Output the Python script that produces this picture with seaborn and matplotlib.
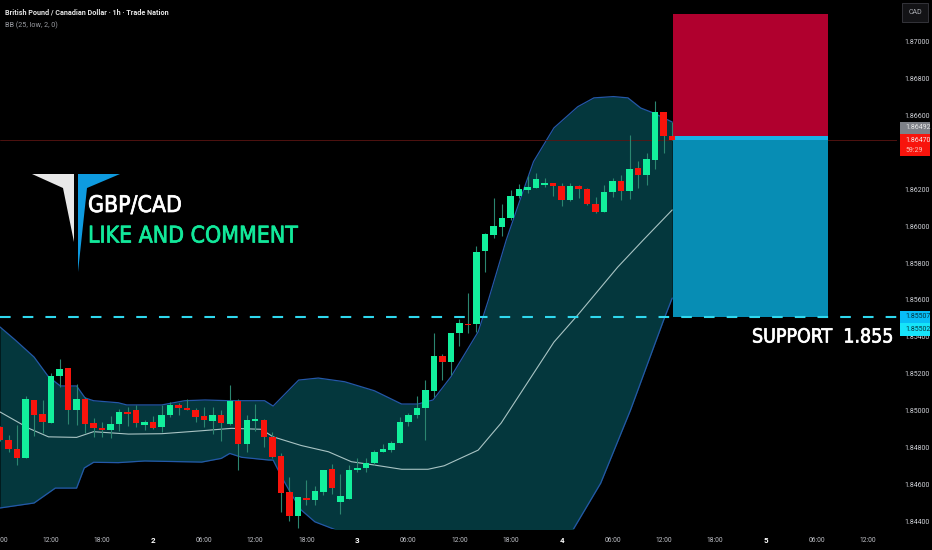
import matplotlib
matplotlib.use("Agg")
import matplotlib.pyplot as plt
import matplotlib.patheffects as pe
from matplotlib.patches import Polygon, Rectangle
import numpy as np
import pandas as pd
import seaborn as sns

# hourly candles, index 0 = 06:00 on the 1st
opens = [1.84908, 1.84840, 1.84789, 1.84740, 1.85057, 1.84981, 1.84934, 1.85187, 1.85230, 1.85002,
         1.85060, 1.84930, 1.84905, 1.84894, 1.84926, 1.84992, 1.85002, 1.84921, 1.84937, 1.84908,
         1.84973, 1.85028, 1.85015, 1.85004, 1.84970, 1.84945, 1.84975, 1.84928, 1.85049, 1.84818,
         1.84945, 1.84948, 1.84854, 1.84753, 1.84557, 1.84427, 1.84525, 1.84514, 1.84559, 1.84680,
         1.84503, 1.84518, 1.84675, 1.84686, 1.84717, 1.84773, 1.84787, 1.84825, 1.84937, 1.84973,
         1.85015, 1.85107, 1.85295, 1.85263, 1.85418, 1.85471, 1.85469, 1.85863, 1.85950, 1.85996,
         1.86043, 1.86162, 1.86198, 1.86209, 1.86223, 1.86233, 1.86218, 1.86140, 1.86218, 1.86200,
         1.86120, 1.86079, 1.86185, 1.86245, 1.86193, 1.86314, 1.86278, 1.86361, 1.86621, 1.86489]
highs = [1.84916, 1.84867, 1.84921, 1.85078, 1.85057, 1.85057, 1.85201, 1.85277, 1.85230, 1.85143,
         1.85075, 1.84957, 1.84939, 1.84970, 1.85006, 1.85020, 1.85030, 1.84948, 1.84970, 1.85030,
         1.85048, 1.85039, 1.85060, 1.85011, 1.85020, 1.85020, 1.85002, 1.85140, 1.85060, 1.84975,
         1.85035, 1.84952, 1.84885, 1.84771, 1.84637, 1.84528, 1.84623, 1.84590, 1.84677, 1.84709,
         1.84655, 1.84702, 1.84740, 1.84740, 1.84785, 1.84818, 1.84836, 1.84966, 1.84984, 1.85078,
         1.85165, 1.85418, 1.85306, 1.85418, 1.85494, 1.85639, 1.85892, 1.85961, 1.86155, 1.86120,
         1.86196, 1.86227, 1.86272, 1.86290, 1.86260, 1.86236, 1.86236, 1.86233, 1.86223, 1.86205,
         1.86157, 1.86223, 1.86260, 1.86278, 1.86495, 1.86356, 1.86399, 1.86681, 1.86621, 1.86567]
lows = [1.84836, 1.84776, 1.84704, 1.84740, 1.84861, 1.84876, 1.84934, 1.85129, 1.84926, 1.84921,
        1.84876, 1.84858, 1.84858, 1.84849, 1.84890, 1.84916, 1.84912, 1.84894, 1.84897, 1.84885,
        1.84966, 1.84975, 1.85002, 1.84939, 1.84908, 1.84872, 1.84836, 1.84921, 1.84677, 1.84776,
        1.84890, 1.84800, 1.84740, 1.84451, 1.84402, 1.84360, 1.84487, 1.84487, 1.84541, 1.84547,
        1.84438, 1.84518, 1.84668, 1.84668, 1.84704, 1.84773, 1.84776, 1.84825, 1.84916, 1.84957,
        1.84840, 1.85075, 1.85165, 1.85192, 1.85350, 1.85418, 1.85428, 1.85753, 1.85934, 1.85949,
        1.86034, 1.86151, 1.86178, 1.86205, 1.86214, 1.86164, 1.86111, 1.86138, 1.86151, 1.86115,
        1.86070, 1.86079, 1.86160, 1.86142, 1.86148, 1.86205, 1.86223, 1.86308, 1.86399, 1.86468]
closes = [1.84840, 1.84789, 1.84740, 1.85060, 1.84973, 1.84937, 1.85187, 1.85227, 1.85002, 1.85060,
          1.84926, 1.84907, 1.84894, 1.84926, 1.84990, 1.84982, 1.84934, 1.84939, 1.84907, 1.84975,
          1.85028, 1.85015, 1.85004, 1.84966, 1.84948, 1.84975, 1.84930, 1.85053, 1.84818, 1.84948,
          1.84952, 1.84858, 1.84746, 1.84554, 1.84427, 1.84528, 1.84514, 1.84563, 1.84677, 1.84577,
          1.84537, 1.84677, 1.84686, 1.84717, 1.84776, 1.84791, 1.84825, 1.84939, 1.84975, 1.85011,
          1.85111, 1.85297, 1.85263, 1.85418, 1.85473, 1.85464, 1.85862, 1.85958, 1.86001, 1.86044,
          1.86166, 1.86202, 1.86213, 1.86256, 1.86234, 1.86218, 1.86142, 1.86220, 1.86200, 1.86120,
          1.86077, 1.86187, 1.86245, 1.86193, 1.86310, 1.86280, 1.86363, 1.86621, 1.86491, 1.86470]

# bollinger bands
upper_x = [0, 1.8, 4, 5.7, 7.1, 9, 10, 11, 13.9, 14.9, 19, 21.7, 24.1, 26.9, 31.1, 32.1, 35.1, 37.4,
           40.5, 44, 47.2, 49.1, 50.9, 53, 56.2, 57.4, 59.5, 61.2, 62.7, 65.1, 67.9, 69.8, 72.1, 73.8,
           75.3, 76.8, 79]
upper_y = [1.85453, 1.85382, 1.85290, 1.85183, 1.85133, 1.85133, 1.85068, 1.85053, 1.85042, 1.85030,
           1.85030, 1.85053, 1.85057, 1.85053, 1.85053, 1.85024, 1.85165, 1.85176, 1.85156, 1.85107,
           1.85035, 1.85035, 1.85057, 1.85183, 1.85427, 1.85599, 1.85925, 1.86153, 1.86350, 1.86533,
           1.86648, 1.86696, 1.86703, 1.86696, 1.86641, 1.86614, 1.86565]
middle_x = [0, 3.4, 5.7, 9, 11, 15.1, 19, 23.7, 27.2, 30.7, 32.1, 35.4, 38.6, 41.3, 44, 47.2, 50.3,
            52.2, 56.2, 57.7, 58.9, 65.1, 67.9, 72.6, 75.6, 79]
middle_y = [1.84992, 1.84903, 1.84857, 1.84854, 1.84885, 1.84872, 1.84874, 1.84890, 1.84903, 1.84898,
            1.84857, 1.84810, 1.84776, 1.84722, 1.84704, 1.84681, 1.84681, 1.84700, 1.84785, 1.84867,
            1.84932, 1.85371, 1.85518, 1.85778, 1.85925, 1.86088]
lower_x = [0, 4, 6.5, 9, 9.9, 11, 13.9, 17, 23.7, 26, 27, 28.4, 31.6, 32.1, 33.1, 34.3, 35.4, 37, 39.2,
           47.2, 58.9, 65.9, 67.4, 70.6, 74.1, 78, 79]
lower_y = [1.84471, 1.84498, 1.84579, 1.84579, 1.84688, 1.84719, 1.84717, 1.84726, 1.84720, 1.84740,
           1.84767, 1.84746, 1.84731, 1.84731, 1.84639, 1.84541, 1.84460, 1.84396, 1.84357, 1.84188,
           1.84188, 1.84270, 1.84357, 1.84606, 1.85002, 1.85491, 1.85610]

price_ticks = [1.844, 1.846, 1.848, 1.850, 1.852, 1.854, 1.856, 1.858, 1.860, 1.862, 1.866, 1.868, 1.870]
time_ticks = [0, 6, 12, 18, 24, 30, 36, 42, 48, 54, 60, 66, 72, 78, 84, 90, 96, 102]
time_labels = ["06:00", "12:00", "18:00", "2", "06:00", "12:00", "18:00", "3", "06:00", "12:00",
               "18:00", "4", "06:00", "12:00", "18:00", "5", "06:00", "12:00"]

last_price = 1.86470
entry_price = 1.86489
target_price = 1.87149
support_price = 1.85507
box_start, box_end = 79.15, 97.33

W, H = 932, 550
BG = "#000000"
GREEN = "#12f09c"
RED = "#f8140c"
WICK = "#2b8670"
BAND = "#04373d"
BAND_EDGE = "#2458a8"
SMALL = 5.0

sns.set_theme(style="dark", rc={"axes.facecolor": BG, "figure.facecolor": BG, "axes.grid": False})
plt.rcParams["font.family"] = ["Roboto", "DejaVu Sans"]


def fx(px):
    return px / W


def fy(py):
    return 1 - py / H


df = pd.DataFrame({"open": opens, "high": highs, "low": lows, "close": closes})
df["hour"] = np.arange(len(df))
df["up"] = df["close"] >= df["open"]

fig = plt.figure(figsize=(W / 100, H / 100), dpi=100)
ax = fig.add_axes([0, fy(529), fx(897), 529 / H])
ax.set_xlim(0.26, 105.42)
ax.set_ylim(1.84357, 1.87227)

# band fill goes under everything
x_all = np.array(sorted(set(upper_x + lower_x)))
ax.fill_between(x_all, np.interp(x_all, lower_x, lower_y), np.interp(x_all, upper_x, upper_y),
                color=BAND, lw=0, zorder=1)
sns.lineplot(x=upper_x, y=upper_y, ax=ax, color=BAND_EDGE, lw=0.9, sort=False, estimator=None, zorder=1.5)
sns.lineplot(x=lower_x, y=lower_y, ax=ax, color=BAND_EDGE, lw=0.9, sort=False, estimator=None, zorder=1.5)
sns.lineplot(x=middle_x, y=middle_y, ax=ax, color="#a9c4c4", lw=0.8, sort=False, estimator=None, zorder=1.6)

ax.axhline(last_price, color="#5c1512", lw=0.6, zorder=1.7)

# risk / reward boxes
bw = box_end - box_start
ax.add_patch(Rectangle((box_start, entry_price), bw, target_price - entry_price, color="#b0002e", lw=0, zorder=2))
ax.add_patch(Rectangle((box_start, support_price), bw, last_price - support_price, color="#078db4", lw=0, zorder=2))
ax.add_patch(Rectangle((box_start, last_price), bw, entry_price - last_price, color="#17b2e6", lw=0, zorder=2))

ax.axhline(support_price, color="#2fd8ee", lw=1.5, dashes=(5.1, 5.8), zorder=3)

# candles
ax.vlines(df["hour"], df["low"], df["high"], color=WICK, lw=0.8, zorder=4)
body_low = df[["open", "close"]].min(axis=1)
body_h = (df["close"] - df["open"]).abs()
ax.bar(df["hour"], body_h, bottom=body_low, width=0.76, lw=0,
       color=[GREEN if u else RED for u in df["up"]], zorder=5)

ax.yaxis.tick_right()
ax.set_yticks(price_ticks)
ax.set_yticklabels(["%.5f" % p for p in price_ticks])
ax.set_xticks(time_ticks)
ax.set_xticklabels(time_labels)
ax.tick_params(axis="y", length=0, pad=5.6, labelsize=SMALL, labelcolor="#d0d2d8")
ax.tick_params(axis="x", length=0, pad=5.5, labelsize=4.9, labelcolor="#c0c2c8")
for lab in ax.get_xticklabels():
    if len(lab.get_text()) == 1:
        lab.set_color("#ffffff")
        lab.set_fontweight("bold")
        lab.set_fontsize(5.8)
for s in ax.spines.values():
    s.set_visible(False)

# logo
fig.add_artist(Polygon([(fx(x), fy(y)) for x, y in [(32, 174), (74, 174), (74, 242), (63, 188)]],
                       transform=fig.transFigure, color="#e8e8e8", lw=0))
fig.add_artist(Polygon([(fx(x), fy(y)) for x, y in [(78, 174), (120, 174), (87, 188), (78, 272)]],
                       transform=fig.transFigure, color="#0e9be0", lw=0))

# texts over the chart
fig.text(fx(5), fy(12.5), "British Pound / Canadian Dollar · 1h · Trade Nation", color="#e4e4e4",
         fontsize=5.2, fontweight="bold", va="center")
fig.text(fx(5), fy(25.5), "BB (25, low, 2, 0)", color="#9a9ca2", fontsize=5.2, va="center")
BIG = dict(family="DejaVu Sans", stretch="condensed", va="center")
for px, py, label, col, size in [(88, 205.5, "GBP/CAD", "#ffffff", 16.5),
                                 (88, 236, "LIKE AND COMMENT", "#12e89a", 16.5),
                                 (752, 337, "SUPPORT  1.855", "#ffffff", 14)]:
    fig.text(fx(px), fy(py), label, color=col, fontsize=size,
             path_effects=[pe.withStroke(linewidth=0.5, foreground=col)], **BIG)

# labels on the price scale
fig.add_artist(Rectangle((fx(902), fy(22)), fx(26), 19 / H, transform=fig.transFigure, fc="#131316", ec="#34343a", lw=0.7))
fig.text(fx(915), fy(12.5), "CAD", color="#a8aab0", fontsize=SMALL, ha="center", va="center")

fig.add_artist(Rectangle((fx(900), fy(134)), fx(30), 12 / H, transform=fig.transFigure, fc="#7d8087", lw=0))
fig.text(fx(905), fy(128), "1.86492", color="#e8e8e8", fontsize=SMALL, va="center")
fig.add_artist(Rectangle((fx(900), fy(156)), fx(30), 22 / H, transform=fig.transFigure, fc="#f8140c", lw=0))
fig.text(fx(905), fy(140.5), "1.86470", color="#f6e6e6", fontsize=SMALL, va="center")
fig.text(fx(905), fy(150), "59:29", color="#f8c0b8", fontsize=SMALL, va="center")

fig.add_artist(Rectangle((fx(900), fy(323)), fx(30), 12 / H, transform=fig.transFigure, fc="#08bdf6", lw=0))
fig.text(fx(905), fy(317), "1.85507", color="#04343f", fontsize=SMALL, va="center")
fig.add_artist(Rectangle((fx(900), fy(336)), fx(30), 13 / H, transform=fig.transFigure, fc="#16e4fa", lw=0))
fig.text(fx(905), fy(329.5), "1.85502", color="#04343f", fontsize=SMALL, va="center")

fig.savefig("out.png", dpi=100, facecolor=BG)
